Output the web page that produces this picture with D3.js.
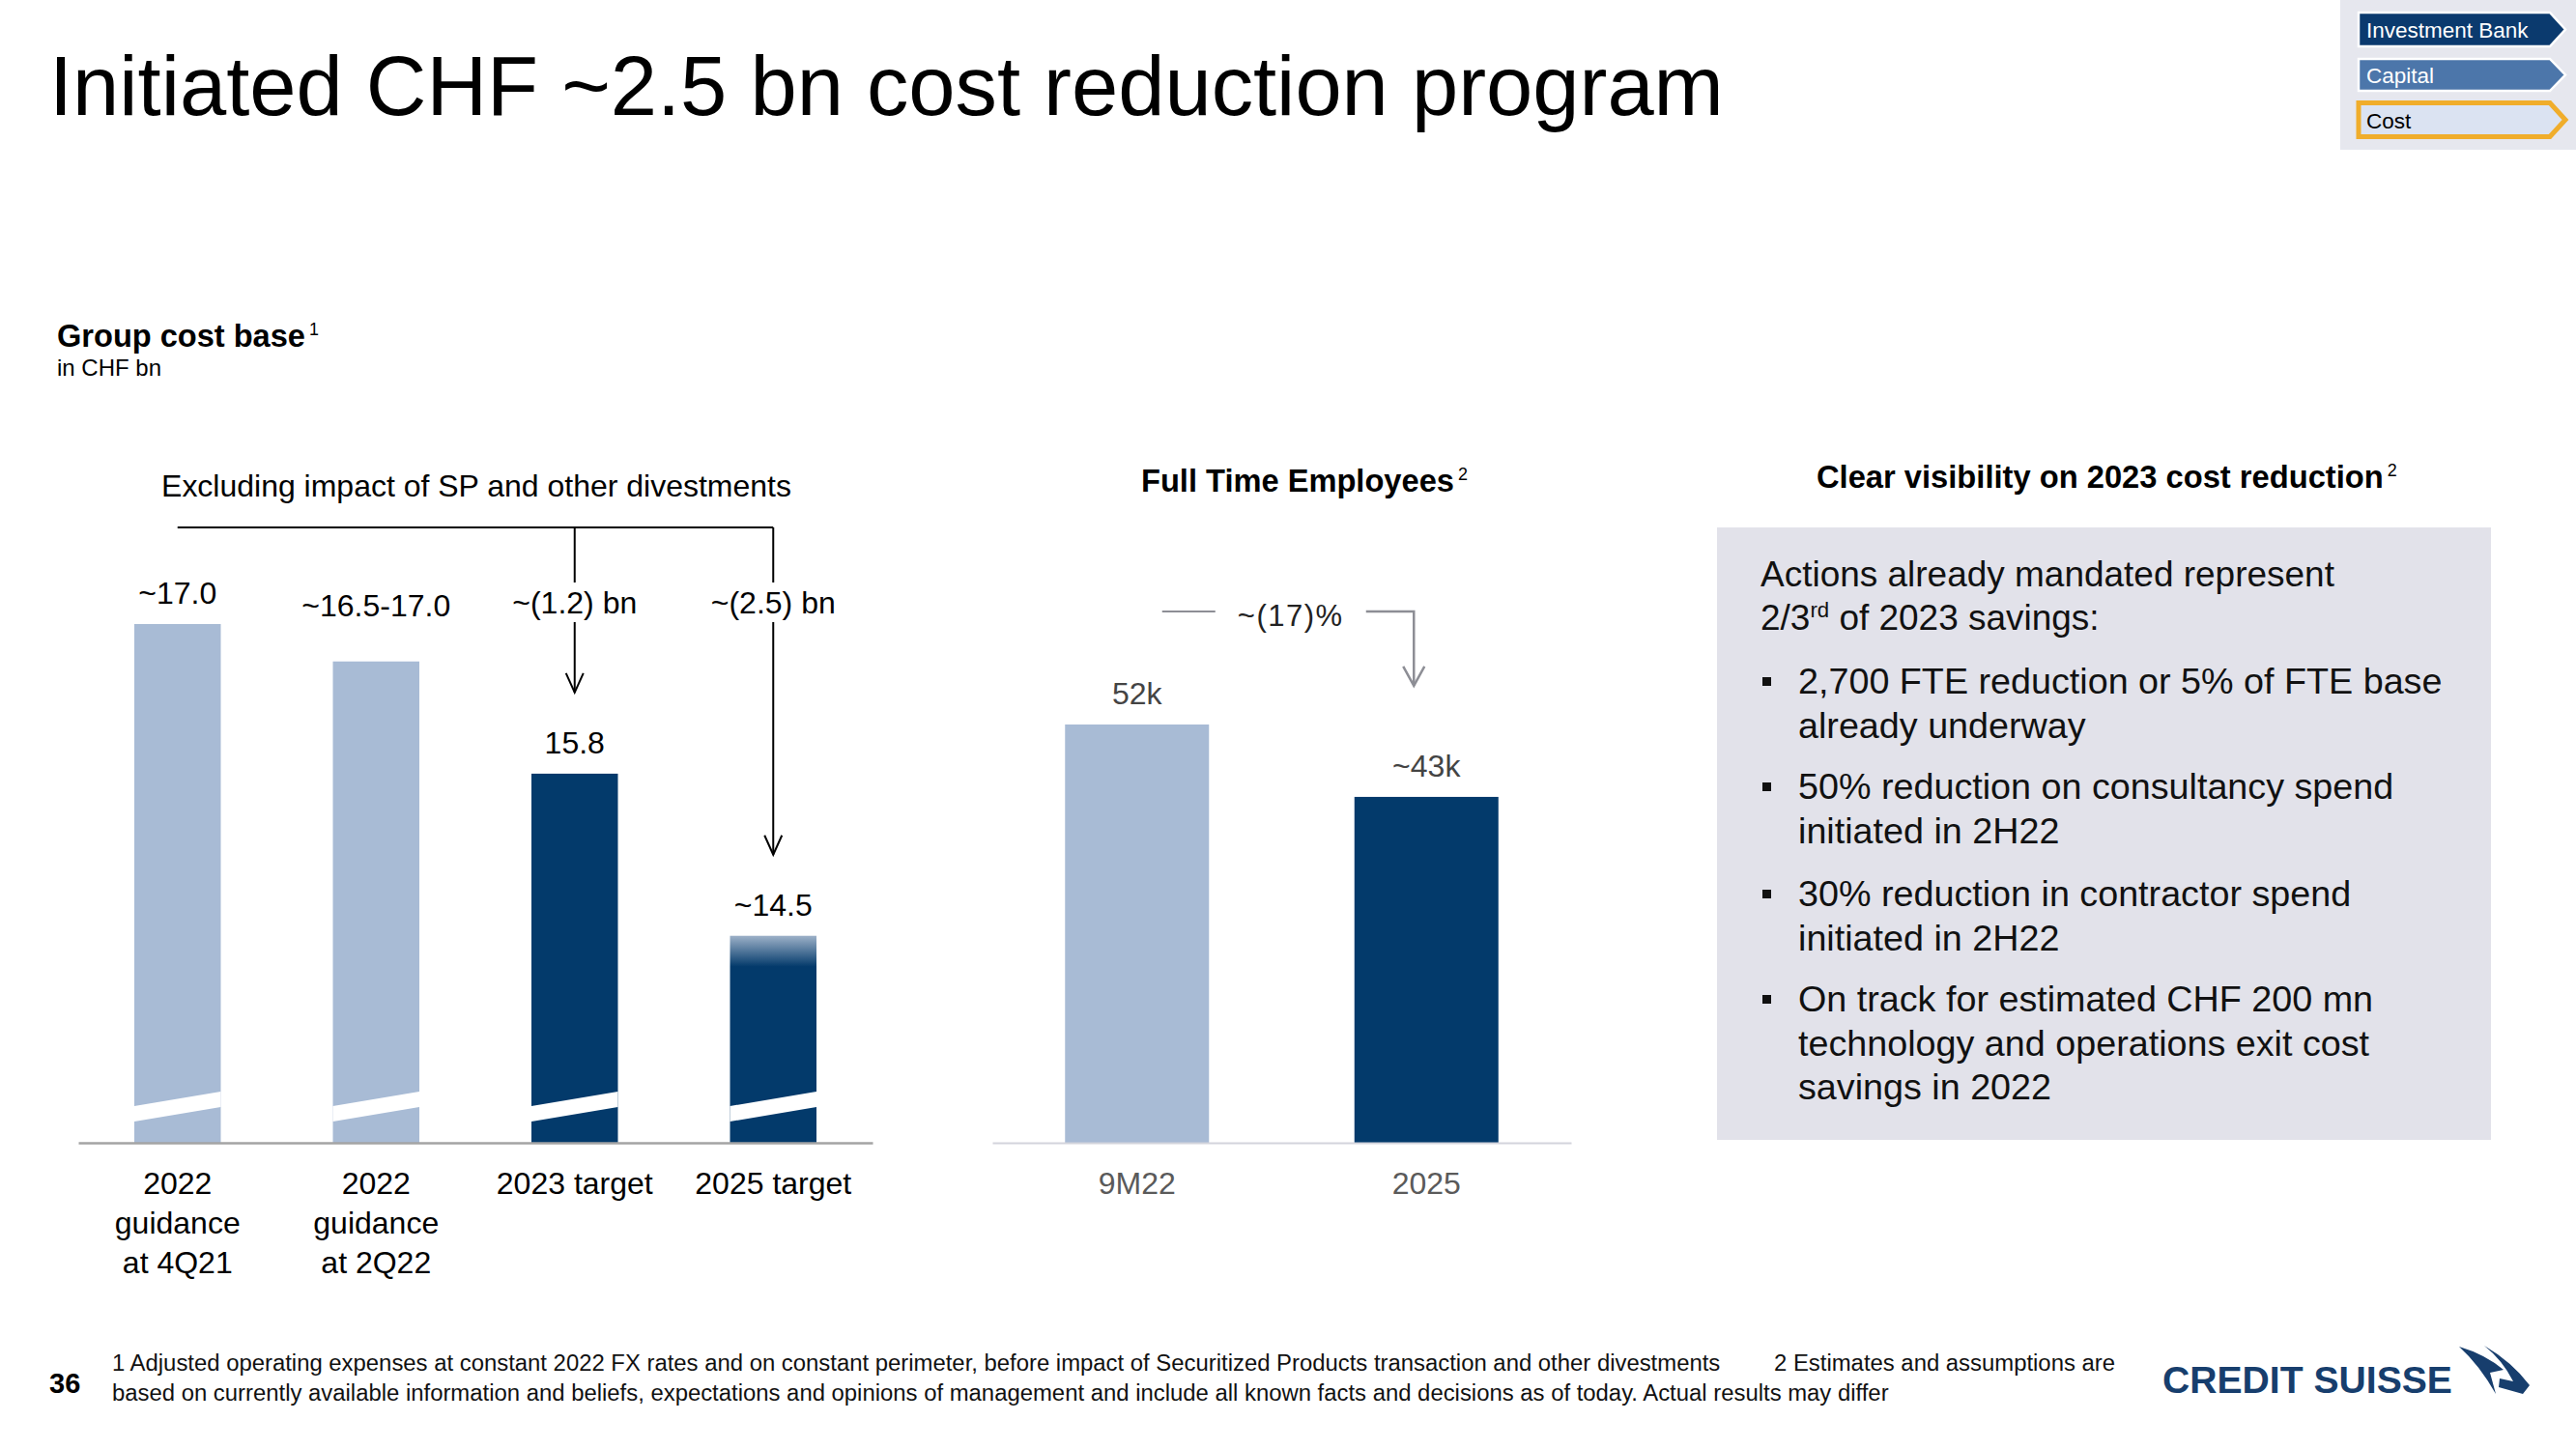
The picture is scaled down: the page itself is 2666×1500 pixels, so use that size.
<!DOCTYPE html>
<html><head><meta charset="utf-8">
<script src="https://cdn.jsdelivr.net/npm/d3@7"></script>
<style>body{margin:0;background:#fff}svg{display:block}</style>
</head><body>
<script>
// ---------------- DATA ----------------
const title = "Initiated CHF ~2.5 bn cost reduction program";
const costCategories = [["2022", "guidance", "at 4Q21"], ["2022", "guidance", "at 2Q22"], ["2023 target"], ["2025 target"]];
const costValues = [17.0, 16.7, 15.8, 14.5];
const costLabels = ["~17.0", "~16.5-17.0", "15.8", "~14.5"];
const costSeries = ["guidance", "guidance", "target", "target"];
const costFuzzyTop = [false, false, false, true];
const costReductions = [{ bar: 2, label: "~(1.2) bn" }, { bar: 3, label: "~(2.5) bn" }];
const fteCategories = ["9M22", "2025"];
const fteValues = [52, 43];
const fteLabels = ["52k", "~43k"];
const fteSeries = ["guidance", "target"];
const fteChangeLabel = "~(17)%";
const navItems = ["Investment Bank", "Capital", "Cost"];
const boxIntro = ["Actions already mandated represent"];
const boxBullets = [
  ["2,700 FTE reduction or 5% of FTE base", "already underway"],
  ["50% reduction on consultancy spend", "initiated in 2H22"],
  ["30% reduction in contractor spend", "initiated in 2H22"],
  ["On track for estimated CHF 200 mn", "technology and operations exit cost", "savings in 2022"]
];
const footnote1 = "1 Adjusted operating expenses at constant 2022 FX rates and on constant perimeter, before impact of Securitized Products transaction and other divestments";
const footnote2a = "2 Estimates and assumptions are";
const footnote2b = "based on currently available information and beliefs, expectations and opinions of management and include all known facts and decisions as of today. Actual results may differ";

// ---------------- STYLE ----------------
const FONT = "'Liberation Sans', Arial, Helvetica, sans-serif";
const NAVY = "#033a6b";
const LIGHT = "#a8bbd5";
const colorOf = s => s === "target" ? NAVY : LIGHT;

const W = 2666, H = 1500;
const svg = d3.select("body").append("svg").attr("width", W).attr("height", H)
  .attr("font-family", FONT).style("background", "#fff");

function fitText(sel, target) {
  const w = sel.node().getComputedTextLength();
  const fs = parseFloat(sel.attr("font-size"));
  const nf = fs * target / w;
  sel.attr("font-size", nf);
  return nf;
}
function heading(x, y, fs, txt, sup, target, weight) {
  const t = svg.append("text").attr("x", x).attr("y", y).attr("font-size", fs)
    .attr("font-weight", weight || "bold").attr("fill", "#000");
  const m = t.append("tspan").text(txt);
  const w = m.node().getComputedTextLength();
  const nf = fs * target / w;
  t.attr("font-size", nf);
  if (sup) t.append("tspan").attr("font-size", nf * 0.55).attr("font-weight", "normal")
    .attr("dx", 4).attr("dy", -nf * 0.38).text(sup);
  return t;
}

// ---------------- TITLE ----------------
const tt = svg.append("text").attr("x", 51).attr("y", 119).attr("font-size", 87)
  .attr("fill", "#000").text(title);
fitText(tt, 1733);

// ---------------- NAV PANEL ----------------
svg.append("rect").attr("x", 2422).attr("y", 0).attr("width", 244).attr("height", 155).attr("fill", "#e6e7ee");
function pent(x, y, w, h, tip) {
  return `M${x},${y}H${x + w}L${x + w + tip},${y + h / 2}L${x + w},${y + h}H${x}Z`;
}
const navStyle = [
  { y: 13, h: 35, fill: "#0b3a6e", stroke: "#fff", sw: 2.5, tc: "#fff", ty: 39 },
  { y: 61, h: 33, fill: "#4c76aa", stroke: "#fff", sw: 2.5, tc: "#fff", ty: 86 },
  { y: 106.5, h: 35, fill: "#dbe3f2", stroke: "#f0ad2b", sw: 5, tc: "#000", ty: 133 }
];
navItems.forEach((s, i) => {
  const st = navStyle[i];
  svg.append("path").attr("d", pent(2441, st.y, 198, st.h, 16)).attr("fill", st.fill)
    .attr("stroke", st.stroke).attr("stroke-width", st.sw);
  svg.append("text").attr("x", 2449).attr("y", st.ty).attr("font-size", 22.5).attr("fill", st.tc).text(s);
});

// ---------------- GROUP COST BASE ----------------
heading(59, 359, 34, "Group cost base", "1", 257);
svg.append("text").attr("x", 59).attr("y", 389).attr("font-size", 24).attr("fill", "#000").text("in CHF bn");

const base = 1183;
const costKeys = costCategories.map(c => c.join(" "));
const xCost = d3.scaleBand().domain(costKeys).range([81, 903]).paddingInner(0.5645).paddingOuter(0.28225);
const yCost = d3.scaleLinear().domain([12.84, 17.0]).range([base, 646]);
const cx = i => xCost(costKeys[i]) + xCost.bandwidth() / 2;

const exc = svg.append("text").attr("x", 493).attr("y", 514).attr("text-anchor", "middle")
  .attr("font-size", 32).attr("fill", "#000").text("Excluding impact of SP and other divestments");
fitText(exc, 652);

const defs = svg.append("defs");
const fade = defs.append("linearGradient").attr("id", "fade").attr("gradientUnits", "userSpaceOnUse")
  .attr("x1", 0).attr("x2", 0).attr("y1", yCost(costValues[3])).attr("y2", yCost(costValues[3]) + 32);
fade.append("stop").attr("offset", 0).attr("stop-color", "#9db1c8");
fade.append("stop").attr("offset", 1).attr("stop-color", NAVY);

svg.append("g").selectAll("rect").data(costValues).join("rect")
  .attr("x", (d, i) => xCost(costKeys[i]))
  .attr("y", d => yCost(d))
  .attr("width", xCost.bandwidth())
  .attr("height", d => base - yCost(d))
  .attr("fill", (d, i) => costFuzzyTop[i] ? "url(#fade)" : colorOf(costSeries[i]));

// axis break bands
svg.append("g").selectAll("path").data(costValues).join("path")
  .attr("d", (d, i) => {
    const x0 = xCost(costKeys[i]), x1 = x0 + xCost.bandwidth();
    return `M${x0},${base - 22}L${x1},${base - 37}L${x1},${base - 53}L${x0},${base - 38}Z`;
  }).attr("fill", "#fff");

// axis
const gxc = svg.append("g").attr("transform", `translate(0,${base})`)
  .call(d3.axisBottom(xCost).tickSize(0).tickSizeOuter(0).tickPadding(0));
gxc.attr("font-family", FONT).attr("font-size", 32);
gxc.select(".domain").attr("stroke", "#a4a4a4").attr("stroke-width", 2.5);
gxc.selectAll(".tick text").each(function (d, i) {
  const t = d3.select(this);
  t.text(null).attr("y", null).attr("dy", null).attr("fill", "#000");
  costCategories[i].forEach((line, j) => t.append("tspan").attr("x", 0).attr("y", 53 + j * 41).text(line));
});

// value labels
svg.append("g").selectAll("text").data(costValues).join("text")
  .attr("x", (d, i) => cx(i))
  .attr("y", (d, i) => i === 1 ? yCost(costValues[0]) - 8 : yCost(d) - 21)
  .attr("text-anchor", "middle").attr("font-size", 32).attr("fill", "#000")
  .text((d, i) => costLabels[i]);

// bracket & reduction arrows
const bracketY = 546;
svg.append("line").attr("x1", cx(0)).attr("x2", cx(costValues.length - 1)).attr("y1", bracketY).attr("y2", bracketY)
  .attr("stroke", "#000").attr("stroke-width", 2);
const redLabelY = yCost(costValues[0]) - 11;
costReductions.forEach(r => {
  const x = cx(r.bar);
  const tip = yCost(costValues[r.bar]) - 21 - 63;
  svg.append("line").attr("x1", x).attr("x2", x).attr("y1", bracketY).attr("y2", redLabelY - 32)
    .attr("stroke", "#000").attr("stroke-width", 2);
  svg.append("line").attr("x1", x).attr("x2", x).attr("y1", redLabelY + 9).attr("y2", tip)
    .attr("stroke", "#000").attr("stroke-width", 2);
  svg.append("path").attr("d", `M${x - 9},${tip - 20}L${x},${tip}L${x + 9},${tip - 20}`)
    .attr("fill", "none").attr("stroke", "#000").attr("stroke-width", 2);
  svg.append("text").attr("x", x).attr("y", redLabelY).attr("text-anchor", "middle")
    .attr("font-size", 32).attr("fill", "#000").text(r.label);
});

// ---------------- FTE ----------------
heading(1181, 509, 31, "Full Time Employees", "2", 324);
const xFte = d3.scaleBand().domain(fteCategories).range([1027, 1626]).paddingInner(0.5025).paddingOuter(0.25125);
const yFte = d3.scaleLinear().domain([0, 52]).range([base, 750]);
const fx = i => xFte(fteCategories[i]) + xFte.bandwidth() / 2;

svg.append("g").selectAll("rect").data(fteValues).join("rect")
  .attr("x", (d, i) => xFte(fteCategories[i]))
  .attr("y", d => yFte(d))
  .attr("width", xFte.bandwidth())
  .attr("height", d => base - yFte(d))
  .attr("fill", (d, i) => colorOf(fteSeries[i]));

const gxf = svg.append("g").attr("transform", `translate(0,${base})`)
  .call(d3.axisBottom(xFte).tickSize(0).tickSizeOuter(0).tickPadding(0));
gxf.attr("font-family", FONT).attr("font-size", 32);
gxf.select(".domain").attr("stroke", "#d3d4dc").attr("stroke-width", 2);
gxf.selectAll(".tick text").attr("y", 53).attr("dy", null).attr("fill", "#5a5a5a");

svg.append("g").selectAll("text").data(fteValues).join("text")
  .attr("x", (d, i) => fx(i)).attr("y", d => yFte(d) - 21)
  .attr("text-anchor", "middle").attr("font-size", 32).attr("fill", "#444")
  .text((d, i) => fteLabels[i]);

const chY = 633, GRAY = "#8d8e95";
svg.append("line").attr("x1", fx(0) + 26).attr("x2", fx(0) + 81).attr("y1", chY).attr("y2", chY)
  .attr("stroke", GRAY).attr("stroke-width", 2);
const ax = fx(1) - 13, atip = yFte(fteValues[1]) - 115;
svg.append("path").attr("d", `M${fx(0) + 237},${chY}H${ax}V${atip}`).attr("fill", "none")
  .attr("stroke", GRAY).attr("stroke-width", 2.5);
svg.append("path").attr("d", `M${ax - 11},${atip - 20}L${ax},${atip}L${ax + 11},${atip - 20}`)
  .attr("fill", "none").attr("stroke", GRAY).attr("stroke-width", 2.5);
svg.append("text").attr("x", (fx(0) + 81 + fx(0) + 237) / 2).attr("y", chY + 15)
  .attr("text-anchor", "middle").attr("font-size", 31).attr("letter-spacing", 1.5).attr("fill", "#222")
  .text(fteChangeLabel);

// ---------------- RIGHT BOX ----------------
heading(1880, 505, 32, "Clear visibility on 2023 cost reduction", "2", 587);
svg.append("rect").attr("x", 1777).attr("y", 546).attr("width", 801).attr("height", 634).attr("fill", "#e2e2ea");
const intro = svg.append("text").attr("x", 1822).attr("y", 607).attr("font-size", 36).attr("fill", "#111").text(boxIntro[0]);
const bfs = fitText(intro, 594);
const l2 = svg.append("text").attr("x", 1822).attr("y", 652).attr("font-size", bfs).attr("fill", "#111");
l2.append("tspan").text("2/3");
l2.append("tspan").attr("font-size", bfs * 0.6).attr("dy", -bfs * 0.36).text("rd");
l2.append("tspan").attr("dy", bfs * 0.36).text(" of 2023 savings:");
const bulletStart = [718, 827, 938, 1047];
const bulletFs = bfs * 1.02;
boxBullets.forEach((lines, i) => {
  svg.append("rect").attr("x", 1824).attr("y", bulletStart[i] - 17).attr("width", 9).attr("height", 9).attr("fill", "#111");
  lines.forEach((ln, j) => {
    svg.append("text").attr("x", 1861).attr("y", bulletStart[i] + j * 45.5).attr("font-size", bulletFs)
      .attr("fill", "#111").text(ln);
  });
});

// ---------------- FOOTER ----------------
svg.append("text").attr("x", 51).attr("y", 1442).attr("font-size", 29).attr("font-weight", "bold").attr("fill", "#000").text("36");
const fn2 = svg.append("text").attr("x", 116).attr("y", 1450).attr("font-size", 22).attr("fill", "#111").text(footnote2b);
const ffs = fitText(fn2, 1839);
svg.append("text").attr("x", 116).attr("y", 1419).attr("font-size", ffs).attr("fill", "#111").text(footnote1);
svg.append("text").attr("x", 1836).attr("y", 1419).attr("font-size", ffs).attr("fill", "#111").text(footnote2a);

// logo
const LOGO = "#173e6d";
const logo = svg.append("text").attr("x", 2238).attr("y", 1442).attr("font-size", 46)
  .attr("font-family", "'Liberation Sans Narrow', 'Liberation Sans', sans-serif").attr("font-weight", "bold")
  .attr("fill", LOGO).text("CREDIT SUISSE");
fitText(logo, 300);
svg.append("path").attr("d", "M2545,1394 Q2572,1402 2591,1418 L2577,1421 L2583,1443 Q2566,1413 2545,1394 Z").attr("fill", LOGO);
svg.append("path").attr("d", "M2571,1393 Q2600,1410 2618,1434 L2611,1443 L2586,1436 L2587,1427 L2601,1430 Q2590,1408 2571,1393 Z").attr("fill", LOGO);
</script>
</body></html>
